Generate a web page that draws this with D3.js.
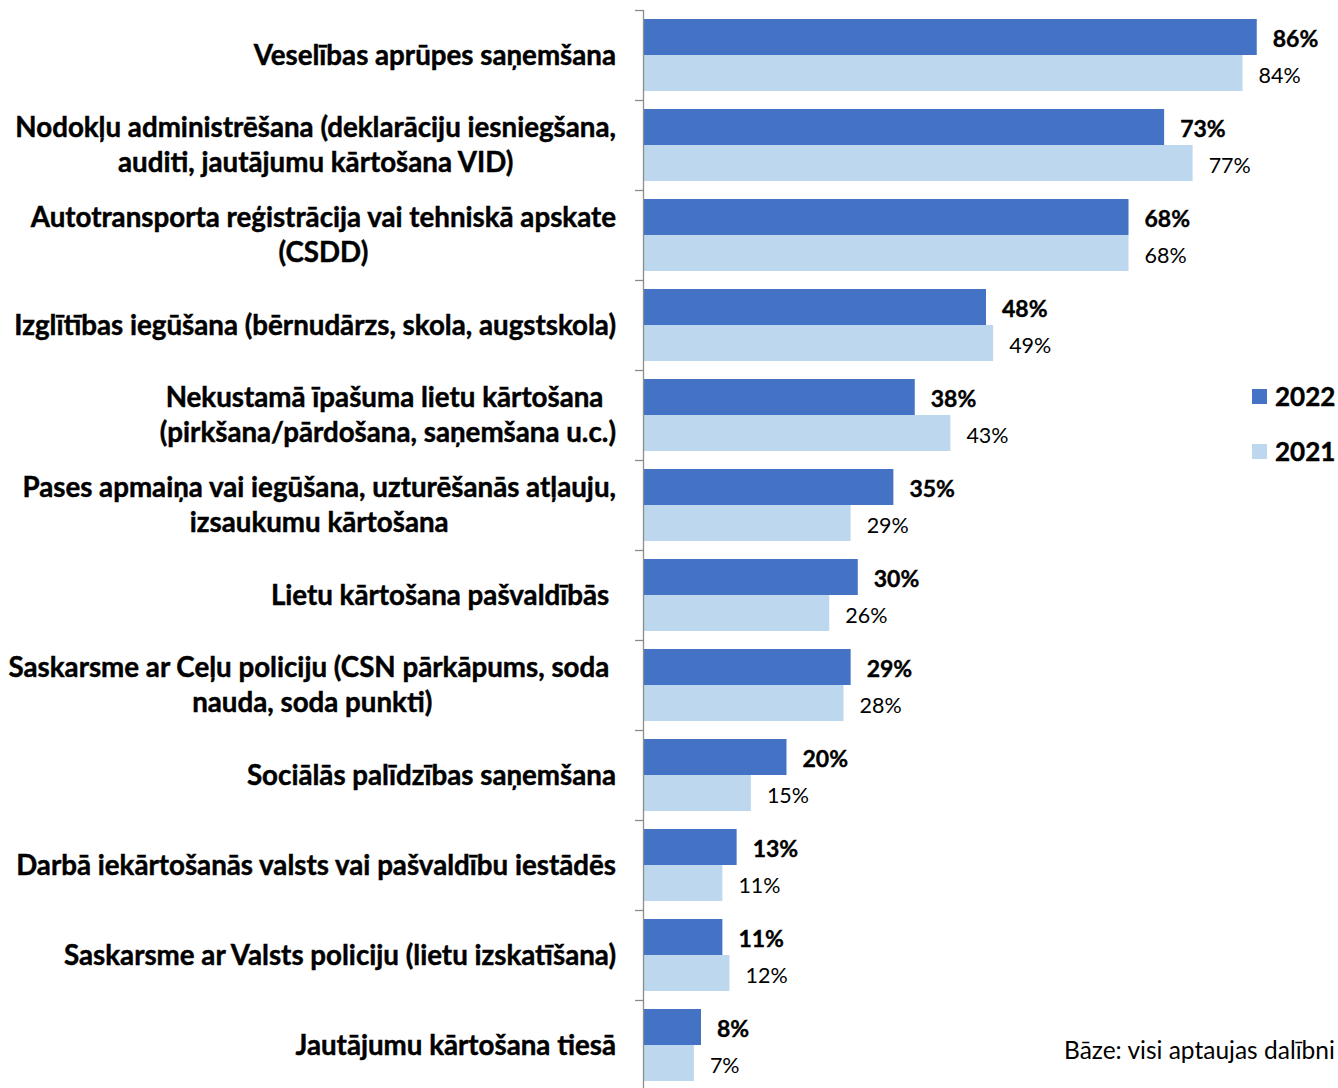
<!DOCTYPE html>
<html>
<head>
<meta charset="utf-8">
<script src="https://cdnjs.cloudflare.com/ajax/libs/d3/7.8.5/d3.min.js"></script>
<style>
  body { margin: 0; background: #fff; }
  svg { display: block; font-family: Lato, "Open Sans", sans-serif; }
</style>
</head>
<body>
<svg width="1338" height="1088"></svg>
<script>
// category labels (split into lines as in the original)
var categories = [
  ["Veselības aprūpes saņemšana"],
  ["Nodokļu administrēšana (deklarāciju iesniegšana,", "auditi, jautājumu kārtošana VID)"],
  ["Autotransporta reģistrācija vai tehniskā apskate", "(CSDD)"],
  ["Izglītības iegūšana (bērnudārzs, skola, augstskola)"],
  ["Nekustamā īpašuma lietu kārtošana ", "(pirkšana/pārdošana, saņemšana u.c.)"],
  ["Pases apmaiņa vai iegūšana, uzturēšanās atļauju,", "izsaukumu kārtošana"],
  ["Lietu kārtošana pašvaldībās "],
  ["Saskarsme ar Ceļu policiju (CSN pārkāpums, soda ", "nauda, soda punkti)"],
  ["Sociālās palīdzības saņemšana"],
  ["Darbā iekārtošanās valsts vai pašvaldību iestādēs"],
  ["Saskarsme ar Valsts policiju (lietu izskatīšana)"],
  ["Jautājumu kārtošana tiesā"]
];
var values2022 = [86, 73, 68, 48, 38, 35, 30, 29, 20, 13, 11, 8];
var values2021 = [84, 77, 68, 49, 43, 29, 26, 28, 15, 11, 12, 7];
var seriesNames = ["2022", "2021"];
var colors = ["#4472C4", "#BDD7EE"];
var footnote = "Bāze: visi aptaujas dalībni";

var svg = d3.select("svg");

var y = d3.scaleBand()
  .domain(d3.range(categories.length))
  .range([10, 10 + 90 * categories.length])
  .paddingInner(0.2)
  .paddingOuter(0.1);
// inner bands per series
var y1 = d3.scaleBand().domain(seriesNames).range([0, y.bandwidth()]);

var x = d3.scaleLinear().domain([0, 100]).range([644, 1356.5]);

// bars
var rows = svg.append("g").selectAll("g")
  .data(categories)
  .enter().append("g")
  .attr("transform", function(d, i) { return "translate(0," + y(i) + ")"; });

rows.each(function(d, i) {
  var g = d3.select(this);
  var vals = [values2022[i], values2021[i]];
  vals.forEach(function(v, s) {
    g.append("rect")
      .attr("x", x(0))
      .attr("y", y1(seriesNames[s]))
      .attr("width", x(v) - x(0))
      .attr("height", y1.bandwidth())
      .style("fill", colors[s]);
    g.append("text")
      .attr("x", x(v) + 16)
      .attr("y", y1(seriesNames[s]) + y1.bandwidth() / 2 + 2)
      .attr("dy", "0.36em")
      .style("font-size", s == 0 ? "23px" : "21.5px")
      .style("font-weight", s == 0 ? "bold" : "normal")
      .style("fill", "#000")
      .style("stroke", s == 0 ? "#000" : "none")
      .style("stroke-width", 0.4)
      .text(v + "%");
  });
});

// axis with ticks at category boundaries
var ticks = d3.range(categories.length + 1).map(function(i) { return 10 + 90 * i; });
svg.append("line")
  .attr("x1", 643.5).attr("x2", 643.5)
  .attr("y1", 10).attr("y2", 1090)
  .style("stroke", "#8c8c8c").style("stroke-width", 1.3);
svg.append("g").selectAll("line")
  .data(ticks)
  .enter().append("line")
  .attr("x1", 635).attr("x2", 643.5)
  .attr("y1", function(d) { return d + 0.5; })
  .attr("y2", function(d) { return d + 0.5; })
  .style("stroke", "#8c8c8c").style("stroke-width", 1.3);

// category labels: lines centred on each other, block right-aligned
var labelRight = 616;
var labels = svg.append("g").style("font-weight", "bold").style("font-size", "24px")
  .style("stroke", "#000").style("stroke-width", 0.45);
// fit font size so the widest line matches the original width
var probe = labels.append("text").style("white-space", "pre")
  .text("Nodokļu administrēšana (deklarāciju iesniegšana,");
var fs = 24 * 601 / probe.node().getComputedTextLength();
probe.remove();
labels.style("font-size", fs + "px");

categories.forEach(function(lines, i) {
  var cy = y(i) + y.bandwidth() / 2;
  var widths = lines.map(function(l) {
    var t = labels.append("text").style("white-space", "pre").text(l);
    var w = t.node().getComputedTextLength();
    t.remove();
    return w;
  });
  var maxW = d3.max(widths);
  var cx = labelRight - maxW / 2;
  var lh = 35;
  lines.forEach(function(l, k) {
    labels.append("text")
      .attr("x", cx)
      .attr("y", cy + (k - (lines.length - 1) / 2) * lh)
      .attr("dy", "0.35em")
      .attr("text-anchor", "middle")
      .style("white-space", "pre")
      .style("fill", "#000")
      .text(l);
  });
});

// legend
var legend = svg.append("g").selectAll("g")
  .data(seriesNames)
  .enter().append("g")
  .attr("transform", function(d, i) { return "translate(1252," + (389 + i * 55) + ")"; });
legend.append("rect")
  .attr("width", 15).attr("height", 15)
  .style("fill", function(d, i) { return colors[i]; });
legend.append("text")
  .attr("x", 23).attr("y", 7.5)
  .attr("dy", "0.36em")
  .style("font-size", "26px")
  .style("font-weight", "bold")
  .style("stroke", "#000").style("stroke-width", 0.45)
  .text(function(d) { return d; });

// footnote
svg.append("text")
  .attr("x", 1064).attr("y", 1059)
  .style("font-size", "24.5px")
  .text(footnote);
</script>
</body>
</html>
